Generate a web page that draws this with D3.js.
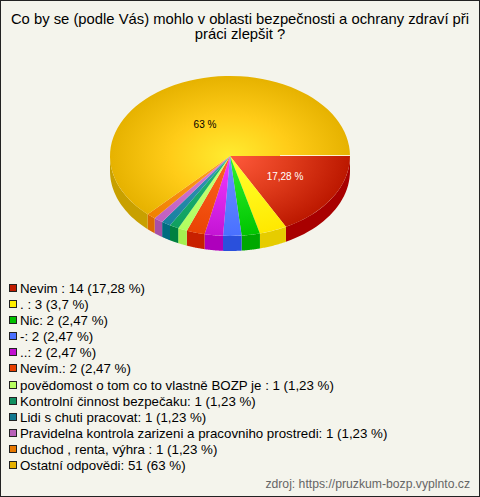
<!DOCTYPE html>
<html><head><meta charset="utf-8">
<script src="https://cdnjs.cloudflare.com/ajax/libs/d3/7.8.5/d3.min.js"></script>
<style>html,body{margin:0;padding:0;background:#f4f4ec}svg{display:block}text{font-family:"Liberation Sans",Arial,sans-serif}</style>
</head><body><svg id="c" width="480" height="497"></svg>
<script>
const titleLines = ["Co by se (podle Vás) mohlo v oblasti bezpečnosti a ochrany zdraví při", "práci zlepšit ?"];
const categories = ["Nevim ", ". ", "Nic", "-", "..", "Nevím.", "povědomost o tom co to vlastně BOZP je ", "Kontrolní činnost bezpečaku", "Lidi s chuti pracovat", "Pravidelna kontrola zarizeni a pracovniho prostredi", "duchod , renta, výhra ", "Ostatní odpovědi"];
const values = [14, 3, 2, 2, 2, 2, 1, 1, 1, 1, 1, 51];
const percents = ["17,28", "3,7", "2,47", "2,47", "2,47", "2,47", "1,23", "1,23", "1,23", "1,23", "1,23", "63"];
const innerColors = ["#ff5a3c","#ffff30","#30f530","#6a94ff","#f23cff","#ff6424","#ccff78","#22b878","#3a9ab8","#d880d8","#ffa028","#ffec30"];
const midColors   = ["#e03c1c","#fff618","#18dc18","#5a82ff","#dc28ec","#f45414","#beff6c","#18ac6c","#2a8cac","#cc70cc","#f89014","#ffcc18"];
const outerColors = ["#bc1800","#ffe800","#00c400","#4a70ff","#c414d4","#ea4404","#b0ff60","#10a060","#1880a0","#c060c0","#f08000","#e6b200"];
const sideColors  = ["#a80000","#e6cc00","#00a800","#2a50dc","#ae00bc","#c82000","#a4f050","#008040","#006c80","#a850a8","#dc6a00","#c8a000"];
const legendColors = ["#c01c00","#ffee00","#00c000","#4a70ff","#c010d0","#e84000","#b8ff60","#109060","#107890","#b860b8","#e87800","#e6b000"];

const W=480,H=497,cx=230,cy=156,rx=120,ry=80,depth=15;
const svg=d3.select("#c");
svg.append("rect").attr("x",.5).attr("y",.5).attr("width",W-1).attr("height",H-1).attr("fill","#f4f4ec").attr("stroke","#222");

svg.selectAll(".t").data(titleLines).join("text").attr("x",240).attr("y",(d,i)=>24+i*15)
  .attr("text-anchor","middle").attr("font-size",14.8).attr("fill","#000").text(d=>d);

const pie=d3.pie().sort(null).value(d=>d).startAngle(Math.PI/2).endAngle(Math.PI/2+2*Math.PI);
const arcs=pie(values);
const arc=d3.arc().innerRadius(0).outerRadius(1);
const defs=svg.append("defs");
values.forEach((v,i)=>{
  const g=defs.append("radialGradient").attr("id","g"+i).attr("gradientUnits","userSpaceOnUse")
    .attr("cx",0).attr("cy",0).attr("r",1);
  g.append("stop").attr("offset",0).attr("stop-color",innerColors[i]);
  g.append("stop").attr("offset",.5).attr("stop-color",midColors[i]);
  g.append("stop").attr("offset",1).attr("stop-color",outerColors[i]);
});
const wallAngle=d3.scaleLinear().domain([0,1]);
function wall(a0,a1){
  const lo=Math.max(a0,Math.PI/2), hi=Math.min(a1,Math.PI*1.5);
  if(hi<=lo) return null;
  const p=d3.path(), ang=wallAngle.range([lo,hi]);
  const pts=d3.range(0,1.0001,1/24).map(t=>{const a=ang(t);return [cx+rx*Math.sin(a),cy-ry*Math.cos(a)];});
  pts.forEach((q,i)=>i?p.lineTo(q[0],q[1]):p.moveTo(q[0],q[1]));
  pts.slice().reverse().forEach(q=>p.lineTo(q[0],q[1]+depth));
  p.closePath();
  return p.toString();
}
svg.append("g").selectAll("path").data(arcs).join("path")
  .attr("d",d=>wall(d.startAngle,d.endAngle)).attr("fill",(d,i)=>sideColors[i]);
svg.append("g").attr("transform",`translate(${cx},${cy}) scale(${rx},${ry})`)
  .selectAll("path").data(arcs).join("path").attr("d",arc).attr("fill",(d,i)=>`url(#g${i})`);
svg.append("line").attr("x1",cx+50).attr("x2",cx+rx).attr("y1",cy-.5).attr("y2",cy-.5)
  .attr("stroke","#fff").attr("stroke-opacity",.8).attr("stroke-width",1.2);

svg.append("text").attr("font-size",10).attr("text-anchor","middle").attr("fill","#fff").attr("x",285).attr("y",180).text(percents[0]+" %");
svg.append("text").attr("font-size",10).attr("text-anchor","middle").attr("fill","#000").attr("x",205).attr("y",128).text(percents[11]+" %");

const rowY=d3.scaleLinear().domain([0,11]).range([288,465]);
const leg=svg.append("g").selectAll("g").data(categories).join("g").attr("transform",(d,i)=>`translate(0,${Math.round(rowY(i))})`);
leg.append("rect").attr("x",9.5).attr("y",-3.5).attr("width",7).attr("height",7).attr("fill",(d,i)=>legendColors[i]).attr("stroke","#222").attr("stroke-width",1);
leg.append("text").attr("x",20).attr("y",5).attr("font-size",13.3).attr("fill","#000")
  .text((d,i)=>`${d}: ${values[i]} (${percents[i]} %)`);

svg.append("text").attr("x",470).attr("y",488).attr("text-anchor","end").attr("font-size",12.2).attr("fill","#666").text("zdroj: https://pruzkum-bozp.vyplnto.cz");
</script></body></html>
